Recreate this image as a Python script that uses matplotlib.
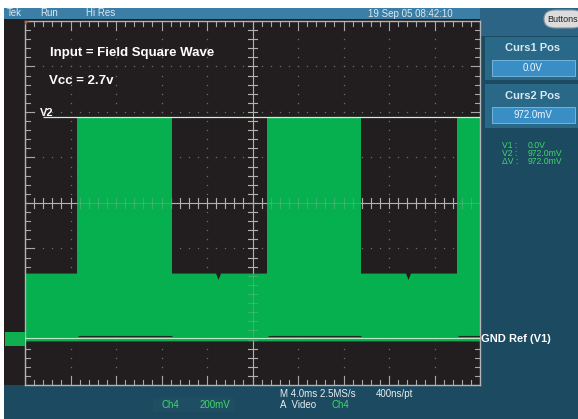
import matplotlib
matplotlib.use('Agg')
import matplotlib.pyplot as plt
from matplotlib.patches import Rectangle, FancyBboxPatch, Polygon
import numpy as np

# scope settings
MS_PER_DIV = 4.0
V_PER_DIV = 0.2
GND_DIV = -2.97          # ch4 ground marker, divisions from centre

# waveform (ms / volts)
edge_ms = [0.0, 4.57, 12.92, 21.27, 29.54, 37.98, 40.0]
is_high = [0, 1, 0, 1, 0, 1]
v_high = 0.972
v_low_top = 0.286
v_low_bot = -0.012
v_high_bot = -0.006
notch_ms = [16.97, 33.67]
notch_depth = 0.028

curs1 = 0.0
curs2 = 0.972

W, H = 578, 419
fig = plt.figure(figsize=(W / 100, H / 100), dpi=100)
fig.patch.set_facecolor('#1b4a61')
FONT = 'Liberation Sans'


def fx(px):
    return px / W


def fy(py):
    return 1 - py / H


def frect(x0, y0, x1, y1, color, ec='none', lw=0, z=-1):
    fig.patches.append(Rectangle((fx(x0), fy(y1)), (x1 - x0) / W, (y1 - y0) / H,
                                 transform=fig.transFigure, facecolor=color,
                                 edgecolor=ec, lw=lw, zorder=z))


def ftext(px, py, s, size=7, color='#dde8f0', weight='normal', ha='left'):
    fig.text(fx(px), fy(py), s, fontsize=size, color=color, fontweight=weight,
             ha=ha, va='center', family=FONT)


# screen frame
frect(0, 0, W, 8, 'white')
frect(0, 0, 4, H, 'white')
frect(4, 8, 480, 19, '#3b7ea6')
frect(480, 8, W, 36, '#2c6485')
frect(4, 19, 480, 385, '#221e1f')
frect(485, 37, W, 80, '#2a6888')
frect(485, 84, W, 128, '#2a6888')
frect(492, 60, 575, 76, '#3a8ec6', ec='#80bce2', lw=0.6)
frect(492, 107, 575, 123, '#3a8ec6', ec='#80bce2', lw=0.6)
frect(153, 398, 234, 412, '#1f4e63')

btn = FancyBboxPatch((fx(544), fy(28)), 40 / W, 18 / H, boxstyle='round,pad=0,rounding_size=0.02',
                     transform=fig.transFigure, facecolor='#dcdcdc', edgecolor='#7f92a4',
                     lw=0.8, zorder=-1)
fig.patches.append(btn)

ax = fig.add_axes([fx(25), fy(385), 455 / W, 364 / H])
ax.set_facecolor('none')
ax.set_xlim(0, 10 * MS_PER_DIV)
ax.set_ylim((-4 - GND_DIV) * V_PER_DIV, (4 - GND_DIV) * V_PER_DIV)
ax.set_xticks([])
ax.set_yticks([])
for sp in ax.spines.values():
    sp.set_color('#b4b4b4')
    sp.set_linewidth(1)


def xd(k):
    return (k + 5) * MS_PER_DIV


def yd(k):
    return (k - GND_DIV) * V_PER_DIV


grid_c = '#6e6e6e'
xs_minor = [xd(k / 5) for k in range(-25, 26)]
ys_minor = [yd(k / 5) for k in range(-20, 21)]

# dotted graticule
for k in [-4, -3, -2, -1, 1, 2, 3, 4]:
    ax.plot([xd(k)] * len(ys_minor), ys_minor, ls='none', marker='s', ms=0.9,
            mew=0, color=grid_c, zorder=1)
for k in [-3, -2, -1, 1, 2, 3]:
    ax.plot(xs_minor, [yd(k)] * len(xs_minor), ls='none', marker='s', ms=0.9,
            mew=0, color=grid_c, zorder=1)

# border ticks
tx = 0.1 * V_PER_DIV
ty = 0.1 * MS_PER_DIV
y0, y1 = ax.get_ylim()
x0, x1 = ax.get_xlim()
for i, x in enumerate(xs_minor):
    L = 2 if i % 5 == 0 else 1
    ax.plot([x, x], [y1, y1 - tx * L], color='#a8a8a8', lw=0.8, zorder=1)
    ax.plot([x, x], [y0, y0 + tx * L], color='#a8a8a8', lw=0.8, zorder=1)
for i, y in enumerate(ys_minor):
    L = 2 if i % 5 == 0 else 1
    ax.plot([x0, x0 + ty * L], [y, y], color='#a8a8a8', lw=0.8, zorder=1)
    ax.plot([x1, x1 - ty * L], [y, y], color='#a8a8a8', lw=0.8, zorder=1)


def centre_cross(z, alpha):
    ax.axvline(xd(0), color='#b0b0b0', lw=0.8, zorder=z, alpha=alpha)
    ax.axhline(yd(0), color='#b0b0b0', lw=0.8, zorder=z, alpha=alpha)
    for x in xs_minor:
        ax.plot([x, x], [yd(0) - tx, yd(0) + tx], color='#b0b0b0', lw=0.8, zorder=z, alpha=alpha)
    for y in ys_minor:
        ax.plot([xd(0) - ty, xd(0) + ty], [y, y], color='#b0b0b0', lw=0.8, zorder=z, alpha=alpha)


centre_cross(1, 1.0)

# waveform
green = '#07b04e'
lx = [x0]
ly = [v_low_top]
for n in notch_ms:
    lx += [n - 0.22, n, n + 0.22]
    ly += [v_low_top, v_low_top - notch_depth, v_low_top]
lx.append(x1)
ly.append(v_low_top)
ax.fill_between(lx, v_low_bot, ly, color=green, lw=0, zorder=2)
for t0, t1, h in zip(edge_ms[:-1], edge_ms[1:], is_high):
    if h:
        ax.fill_between([t0, t1], v_high_bot, v_high, color=green, lw=0, zorder=2)
ax.hlines(curs1, x0, x1, color='#bfe8c8', lw=0.8, zorder=3)
for t0, t1, h in zip(edge_ms[:-1], edge_ms[1:], is_high):
    if h:
        ax.hlines(curs1 + 0.008, t0 + 0.1, t1, color='#1e2a20', lw=0.8, zorder=3)

centre_cross(3, 0.3)

# V2 cursor
ax.hlines(curs2, (43 - 25) / 45.5 * MS_PER_DIV, x1, color='#c8f4d2', lw=0.9, zorder=4)

# trigger / ground markers
fig.patches.append(Polygon([[fx(25), fy(21)], [fx(29), fy(21)], [fx(25), fy(25)]],
                           closed=True, transform=fig.transFigure, facecolor='#e05030', zorder=4))
frect(5, 332, 25, 346, '#10b050', z=4)
ftext(12, 339, '4', size=6, color='#e8ffe8')
ftext(18, 338.5, '→', size=6, color='#e8ffe8')

# overlay text
ftext(50, 53, 'Input = Field Square Wave', size=9.5, color='white', weight='bold')
ftext(49, 81, 'Vcc = 2.7v', size=9.5, color='white', weight='bold')
ftext(40, 113, 'V2', size=8, color='white', weight='bold')
ftext(481, 339, 'GND Ref (V1)', size=8, color='white', weight='bold')

# header
ftext(7, 13.5, 'Tek')
ftext(40, 13.5, 'Run')
ftext(86, 13.5, 'Hi Res')
ftext(368, 14, '19 Sep 05 08:42:10')
ftext(547, 19, 'Buttons', size=6.5, color='#202020')

# cursor panel
ftext(533, 48, 'Curs1 Pos', size=8, color='#d8e8f4', weight='bold', ha='center')
ftext(533, 68, f'{curs1:.1f}V', size=7, color='#eef6ff', ha='center')
ftext(533, 96, 'Curs2 Pos', size=8, color='#d8e8f4', weight='bold', ha='center')
ftext(533, 115, f'{curs2 * 1000:.1f}mV', size=7, color='#eef6ff', ha='center')
rd = '#40d868'
ftext(502, 145, 'V1 :', size=6.2, color=rd)
ftext(528, 145, f'{curs1:.1f}V', size=6.2, color=rd)
ftext(502, 153, 'V2 :', size=6.2, color=rd)
ftext(528, 153, f'{curs2 * 1000:.1f}mV', size=6.2, color=rd)
ftext(502, 161, 'ΔV :', size=6.2, color=rd)
ftext(528, 161, f'{(curs2 - curs1) * 1000:.1f}mV', size=6.2, color=rd)

# footer
ftext(170, 405, 'Ch4', color=rd, ha='center')
ftext(215, 405, '200mV', color=rd, ha='center')
ftext(280, 394, 'M 4.0ms 2.5MS/s', color='#e8eef2')
ftext(376, 394, '400ns/pt', color='#e8eef2')
ftext(280, 405, 'A  Video', color='#e8eef2')
ftext(332, 405, 'Ch4', color=rd)

fig.savefig('out.png', dpi=100, facecolor=fig.get_facecolor())
